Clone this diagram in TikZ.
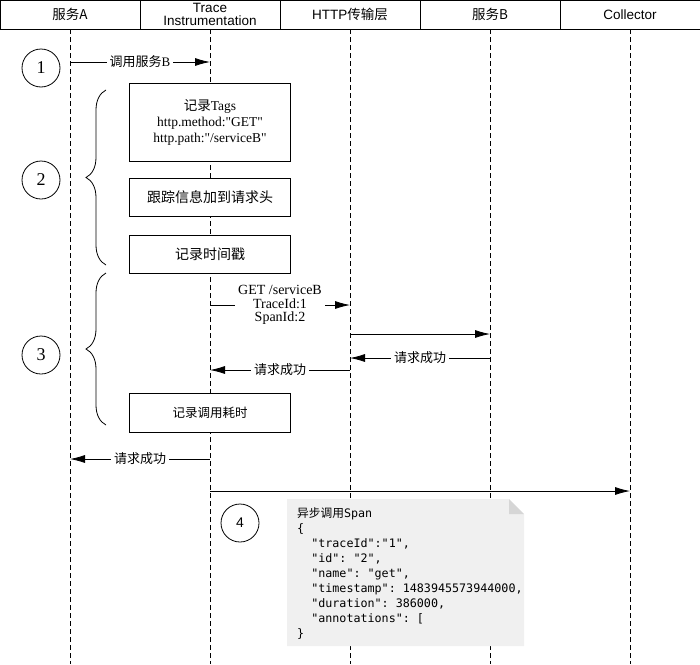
\documentclass[tikz,border=0pt]{standalone}
\usepackage{fontspec}
\setmainfont{Liberation Serif}[Ligatures=TeXOff]
\setsansfont{Liberation Sans}
\newfontfamily\cjk{Noto Sans CJK SC}
\newfontfamily\notemono{DejaVu Sans Mono}
\usetikzlibrary{arrows,arrows.meta,shapes,positioning,calc,decorations.pathreplacing}
\definecolor{notebg}{HTML}{F0F0F0}
\definecolor{notefold}{HTML}{D6D6D6}
\tikzset{
    lane/.style={
        rectangle,
        draw=black,
        line width=0.8pt,
        minimum width=140pt,
        minimum height=29pt,
        inner sep=0pt,
        align=center,
        font=\sffamily\fontsize{13.5}{12.5}\selectfont
    },
    lifeline/.style={
        line width=0.8pt,
        dash pattern=on 5pt off 3pt
    },
    stepno/.style={
        circle,
        draw=black,
        line width=0.8pt,
        minimum size=38pt,
        inner sep=0pt,
        font=\fontsize{18}{18}\selectfont
    },
    task/.style={
        rectangle,
        draw=black,
        fill=white,
        line width=0.8pt,
        minimum width=161pt,
        align=center,
        font=\fontsize{13.5}{16}\selectfont
    }
}

\begin{document}
\begin{tikzpicture}[x=1pt, y=-1pt, >={Latex[length=15pt,width=8pt]}]
    \useasboundingbox (0,0) rectangle (700,664);

    % Estilos das mensagens
    \tikzset{
        msg/.style={->, line width=0.8pt},
        msglabel/.style={fill=white, inner sep=3pt, font=\fontsize{13}{14}\selectfont},
        group/.style={decorate, decoration={brace, amplitude=20pt}, line width=0.8pt}
    }

    % Cabeçalho
    \node[lane] (hA) at (70,14.5) {\cjk 服务A};
    \node[lane] (hT) at (210,14.5) {Trace\\Instrumentation};
    \node[lane] (hH) at (350,14.5) {HTTP{\cjk 传输层}};
    \node[lane] (hB) at (490,14.5) {\cjk 服务B};
    \node[lane] (hC) at (630,14.5) {Collector};

    % Linhas de vida
    \foreach \n/\x in {A/70, T/210, H/350, B/490, C/630} {
        \coordinate (\n end) at (\x,664);
        \draw[lifeline] (h\n.south) -- (\n end);
    }

    % Passos
    \node[stepno] (S1) at (41,68) {1};
    \node[stepno] (S2) at (41,180) {2};
    \node[stepno] (S3) at (41,355) {3};
    \node[stepno, font=\sffamily\fontsize{14}{14}\selectfont] (S4) at (240,523) {4};

    % Caixas
    \node[task, minimum height=78pt] (tags) at (210,122)
        {{\cjk 记录}Tags\\http.method:"GET"\\http.path:"/serviceB"};
    \node[task, minimum height=38pt, font=\fontsize{14}{16}\selectfont] (inject) at (210,197)
        {\cjk 跟踪信息加到请求头};
    \node[task, minimum height=38pt, font=\fontsize{14}{16}\selectfont] (stamp) at (210,254)
        {\cjk 记录时间戳};
    \node[task, minimum height=39pt, font=\fontsize{12.5}{16}\selectfont] (elapsed) at (210,412.5)
        {\cjk 记录调用耗时};

    % Chaves
    \coordinate (g2top) at (106,90);
    \coordinate (g2bot) at (106,265);
    \coordinate (g3top) at (106,273);
    \coordinate (g3bot) at (106,425);
    \draw[group] (g2bot) -- (g2top);
    \draw[group] (g3bot) -- (g3top);

    % Pontos das mensagens
    \coordinate (a1) at (70,62);   \coordinate (t1) at (210,62);
    \coordinate (t2) at (210,305); \coordinate (h2) at (350,305);
    \coordinate (h3) at (350,334); \coordinate (b3) at (490,334);
    \coordinate (b4) at (490,358); \coordinate (h4) at (350,358);
    \coordinate (h5) at (350,370); \coordinate (t5) at (210,370);
    \coordinate (t6) at (210,459); \coordinate (a6) at (70,459);
    \coordinate (t7) at (210,491); \coordinate (c7) at (630,491);

    % Mensagens
    \draw[msg] (a1) -- node[msglabel] {{\cjk 调用服务}B} (t1);
    \draw[msg] (t2) -- node[msglabel, align=center, font=\fontsize{14}{13.5}\selectfont]
        {GET /serviceB\\TraceId:1\\SpanId:2} (h2);
    \draw[msg] (h3) -- (b3);
    \draw[msg] (b4) -- node[msglabel] {\cjk 请求成功} (h4);
    \draw[msg] (h5) -- node[msglabel] {\cjk 请求成功} (t5);
    \draw[msg] (t6) -- node[msglabel] {\cjk 请求成功} (a6);
    \draw[msg] (t7) -- (c7);

    % Nota do Span
    \fill[notebg] (287,499) -- (509,499) -- (524,514) -- (524,646) -- (287,646) -- cycle;
    \fill[notefold] (509,499) -- (524,514) -- (509,514) -- cycle;
    \node[anchor=north west, inner sep=0pt, align=left,
          font=\notemono\frenchspacing\fontsize{11.7}{15.1}\selectfont] (span) at (297,507)
        {{\cjk 异步调用}Span\\
         \{\\
         ~~"traceId":"1",\\
         ~~"id": "2",\\
         ~~"name": "get",\\
         ~~"timestamp": 1483945573944000,\\
         ~~"duration": 386000,\\
         ~~"annotations": [\\
         \}};
\end{tikzpicture}
\end{document}
